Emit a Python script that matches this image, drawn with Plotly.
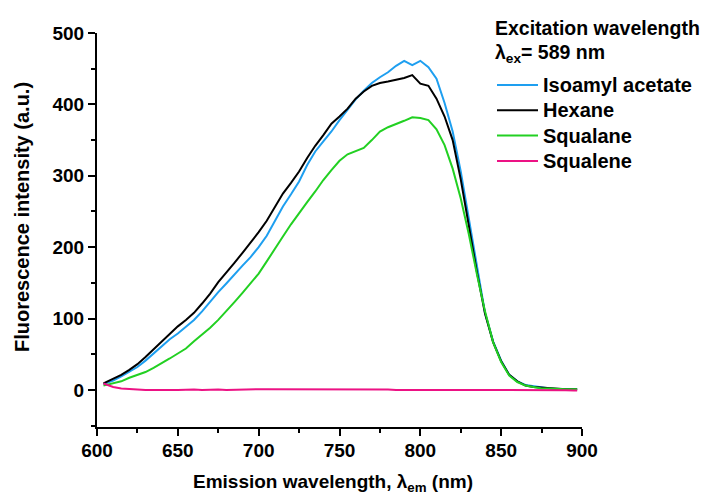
import plotly.graph_objects as go

# Emission wavelength (nm)
wavelength = [604, 610, 615, 620, 625, 630, 635, 640, 645, 650,
              655, 660, 665, 670, 675, 680, 685, 690, 695, 700,
              705, 710, 715, 720, 725, 730, 735, 740, 745, 750,
              755, 760, 765, 770, 775, 780, 785, 790, 795, 800,
              805, 810, 815, 820, 825, 830, 835, 840, 845, 850,
              855, 860, 865, 870, 875, 880, 885, 890, 895, 897]

isoamyl_acetate = [8, 13, 19, 25, 32, 41, 51, 61, 71, 79,
                   88, 98, 110, 124, 137, 149, 162, 174, 186, 200,
                   216, 236, 257, 274, 292, 315, 334, 348, 362, 378,
                   392, 407, 419, 430, 438, 445, 454, 461, 455, 461,
                   452, 436, 402, 362, 306, 240, 168, 108, 68, 41,
                   21, 12, 7, 5, 3, 2, 1, 1, 1, 1]

hexane = [9, 15, 21, 28, 36, 46, 57, 68, 79, 89,
          98, 108, 121, 135, 151, 164, 178, 192, 206, 221,
          237, 256, 275, 290, 306, 325, 342, 357, 373, 383,
          394, 408, 418, 426, 430, 432, 434, 437, 441, 429,
          426, 408, 383, 350, 295, 228, 165, 107, 67, 40,
          21, 12, 6, 4, 3, 2, 1, 1, 1, 1]

squalane = [6, 9, 12, 17, 21, 25, 31, 37, 44, 51,
            58, 68, 77, 87, 98, 110, 123, 136, 150, 163,
            180, 198, 215, 232, 248, 263, 278, 294, 308, 321,
            330, 335, 339, 350, 362, 368, 372, 377, 382, 381,
            378, 365, 343, 310, 268, 218, 162, 110, 67, 39,
            20, 11, 6, 4, 2, 2, 1, 1, 1, 1]

squalene = [9, 4, 2, 1, 0.5, 0, 0, 0.5, 0, 0,
            0.5, 0.5, 0, 0.5, 0.5, 0, 0.5, 0.5, 0.5, 1,
            1, 1, 1, 1.5, 1.5, 1, 1, 1, 1, 0.5,
            0.5, 0.5, 1, 0.5, 0.5, 0.5, 0, 0, 0.5, 0,
            0, 0, 0.5, 0, 0, 0.5, 0, 0, 0.5, 0.5,
            0, 0, 0, 0, -0.5, -0.5, -0.5, -0.5, -1, -1]

series_names = ["Isoamyl acetate", "Hexane", "Squalane", "Squalene"]
series_values = [isoamyl_acetate, hexane, squalane, squalene]
series_colors = ["#1E9FF0", "#000000", "#22D022", "#EC1284"]

legend_title_1 = "Excitation wavelength"
legend_title_2 = "λ<sub>ex</sub>= 589 nm"
x_title = "Emission wavelength, λ<sub>em</sub> (nm)"
y_title = "Fluorescence intensity (a.u.)"

FONT = "Liberation Sans, Arial, sans-serif"

fig = go.Figure()
for name, vals, color in zip(series_names, series_values, series_colors):
    fig.add_trace(go.Scatter(x=wavelength, y=vals, mode="lines", name=name,
                             line=dict(color=color, width=2)))

axis_common = dict(
    showline=True, linecolor="black", linewidth=2,
    ticks="outside", ticklen=7, tickwidth=2, tickcolor="black",
    showgrid=False, zeroline=False, automargin=False,
    tickfont=dict(family=FONT, size=19, color="black", weight="bold"),
)

# plot area in page pixels: x 97..582, y 33..427 (page has 8px body offset)
PL, PR, PT, PB = 97, 582, 33, 427


def px_x(x):
    return (x - PL) / (PR - PL)


def px_y(y):
    return (PB - y) / (PB - PT)


legend_font = dict(family=FONT, size=20, color="black", weight="bold")
title_font = dict(family=FONT, size=19.5, color="black", weight="bold")
annotations = [
    dict(text=legend_title_1, x=px_x(493), y=px_y(28), xref="paper", yref="paper",
         xanchor="left", yanchor="middle", showarrow=False, font=title_font),
    dict(text=legend_title_2, x=px_x(493), y=px_y(53), xref="paper", yref="paper",
         xanchor="left", yanchor="middle", showarrow=False, font=title_font),
    dict(text=x_title, x=px_x(333), y=px_y(483), xref="paper", yref="paper",
         xanchor="center", yanchor="middle", showarrow=False,
         font=dict(family=FONT, size=19, color="black", weight="bold")),
    dict(text=y_title, x=px_x(22), y=px_y(217), xref="paper", yref="paper",
         xanchor="center", yanchor="middle", showarrow=False, textangle=-90,
         font=dict(family=FONT, size=20, color="black", weight="bold")),
]
shapes = []
for i, (name, color) in enumerate(zip(series_names, series_colors)):
    yc = 85 + i * 25.3
    shapes.append(dict(type="line", xref="paper", yref="paper",
                       x0=px_x(497), x1=px_x(538), y0=px_y(yc), y1=px_y(yc),
                       line=dict(color=color, width=2)))
    annotations.append(dict(text=name, x=px_x(541), y=px_y(yc), xref="paper", yref="paper",
                            xanchor="left", yanchor="middle", showarrow=False,
                            font=legend_font))

fig.update_layout(
    width=700, height=487,
    margin=dict(l=89, r=126, t=25, b=68, autoexpand=False),
    paper_bgcolor="white", plot_bgcolor="white",
    font=dict(family=FONT, color="black"),
    showlegend=False,
    xaxis=dict(range=[600, 900], dtick=50, tick0=600, ticklabelstandoff=-2,
               minor=dict(dtick=25, ticklen=4, tickwidth=2, tickcolor="black", ticks="outside"),
               **axis_common),
    yaxis=dict(range=[-52, 500], dtick=100, tick0=0,
               minor=dict(dtick=50, ticklen=4, tickwidth=2, tickcolor="black", ticks="outside"),
               **axis_common),
    annotations=annotations,
    shapes=shapes,
)

fig.write_html("out.html")
